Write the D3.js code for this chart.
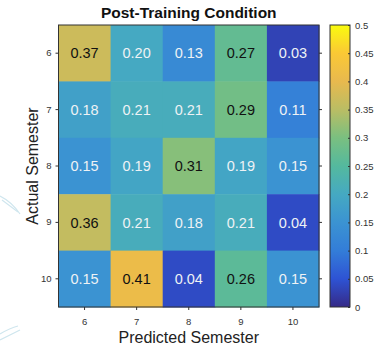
<!DOCTYPE html>
<html><head><meta charset="utf-8">
<script src="https://cdn.jsdelivr.net/npm/d3@7"></script>
<style>body{margin:0;background:#fff}svg{display:block;font-family:"Liberation Sans",Arial,sans-serif}</style>
</head><body><svg id="c" width="374" height="347"></svg>
<script>
const actual = ["6","7","8","9","10"];
const predicted = ["6","7","8","9","10"];
const values = [
  [0.37,0.20,0.13,0.27,0.03],
  [0.18,0.21,0.21,0.29,0.11],
  [0.15,0.19,0.31,0.19,0.15],
  [0.36,0.21,0.18,0.21,0.04],
  [0.15,0.41,0.04,0.26,0.15]
];
const cbTicks = [0,0.05,0.1,0.15,0.2,0.25,0.3,0.35,0.4,0.45,0.5];
const title = "Post-Training Condition";
const xTitle = "Predicted Semester";
const yTitle = "Actual Semester";

// parula-like colormap stops (slightly muted as in the reference)
const parula = [
 [0.2081,0.1663,0.5292],[0.18,0.3242,0.8303],[0.20,0.4887,0.8467],
 [0.23,0.5772,0.8228],[0.27,0.6642,0.7607],[0.33,0.7250,0.6193],
 [0.48,0.7481,0.5033],[0.73,0.7411,0.3905],[0.91,0.7258,0.3063],
 [0.98,0.7861,0.2067],[0.9763,0.9831,0.0538]
].map(c=>d3.rgb(c[0]*255,c[1]*255,c[2]*255).formatHex());
const interp = d3.piecewise(d3.interpolateRgb, parula);
const color = d3.scaleSequential(t=>interp(t)).domain([0,0.5]).clamp(true);

const svg = d3.select("#c");
// faint decorative lines
const deco = svg.append("g").attr("stroke","#cfe6ee").attr("fill","none").attr("stroke-width",1.2);
deco.append("path").attr("d","M0,196 Q12,202 20,214");
deco.append("path").attr("d","M2,200 L18,212");
deco.append("path").attr("d","M0,334 Q10,328 18,326");
deco.append("path").attr("d","M0,340 L20,330");

const L=58.5, R=319, T=25, B=307;
const x = d3.scaleBand().domain(predicted).range([L,R]);
const y = d3.scaleBand().domain(actual).range([T,B]);

const g = svg.append("g");
values.forEach((row,i)=>row.forEach((v,j)=>{
  g.append("rect").attr("x",x(predicted[j])).attr("y",y(actual[i]))
   .attr("width",x.bandwidth()+0.5).attr("height",y.bandwidth()+0.5).attr("fill",color(v));
  g.append("text").attr("x",x(predicted[j])+x.bandwidth()/2).attr("y",y(actual[i])+y.bandwidth()/2)
   .attr("dy","0.36em").attr("text-anchor","middle").attr("font-size",14.5)
   .attr("fill", v>=0.25 ? "#111" : "#eef2f5").text(v.toFixed(2));
}));

// axes
const xa = svg.append("g").attr("transform",`translate(0,${B})`)
  .call(d3.axisBottom(x).tickSize(3).tickPadding(8));
const ya = svg.append("g").attr("transform",`translate(${L},0)`)
  .call(d3.axisLeft(y).tickSize(3).tickPadding(4));
[xa,ya].forEach(a=>{a.select(".domain").remove();
  a.selectAll("text").attr("font-size",9.5).attr("fill","#333").attr("font-family","Liberation Sans, Arial, sans-serif");
  a.selectAll("line").attr("stroke","#333");});
// right ticks
svg.append("g").attr("transform",`translate(${R},0)`).call(d3.axisRight(y).tickSize(3).tickFormat(""))
  .call(a=>{a.select(".domain").remove();a.selectAll("line").attr("stroke","#333");});
svg.append("rect").attr("x",L).attr("y",T).attr("width",R-L).attr("height",B-T)
  .attr("fill","none").attr("stroke","#333").attr("stroke-width",1);

// colorbar
const cbL=330, cbR=350;
const cy = d3.scaleLinear().domain([0,0.5]).range([B,T]);
const defs = svg.append("defs");
const grad = defs.append("linearGradient").attr("id","cbg").attr("x1",0).attr("y1",1).attr("x2",0).attr("y2",0);
d3.range(0,1.0001,0.05).forEach(t=>grad.append("stop").attr("offset",t).attr("stop-color",color(t*0.5)));
svg.append("rect").attr("x",cbL).attr("y",T).attr("width",cbR-cbL).attr("height",B-T)
  .attr("fill","url(#cbg)").attr("stroke","#333").attr("stroke-width",1);
const ca = svg.append("g").attr("transform",`translate(${cbR},0)`)
  .call(d3.axisRight(cy).tickValues(cbTicks).tickSize(2).tickPadding(3).tickFormat(d=>String(d)));
ca.select(".domain").remove();
ca.selectAll("text").attr("font-size",9.5).attr("fill","#333").attr("font-family","Liberation Sans, Arial, sans-serif");
ca.selectAll("line").attr("stroke","#333").attr("transform","translate(-2,0)");

// titles
svg.append("text").attr("x",(L+R)/2).attr("y",18).attr("text-anchor","middle")
  .attr("font-size",15.5).attr("font-weight","bold").attr("fill","#111").text(title);
svg.append("text").attr("x",(L+R)/2).attr("y",343).attr("text-anchor","middle")
  .attr("font-size",16).attr("fill","#222").text(xTitle);
svg.append("text").attr("transform",`translate(38,${(T+B)/2}) rotate(-90)`).attr("text-anchor","middle")
  .attr("font-size",16).attr("fill","#222").text(yTitle);
</script></body></html>
